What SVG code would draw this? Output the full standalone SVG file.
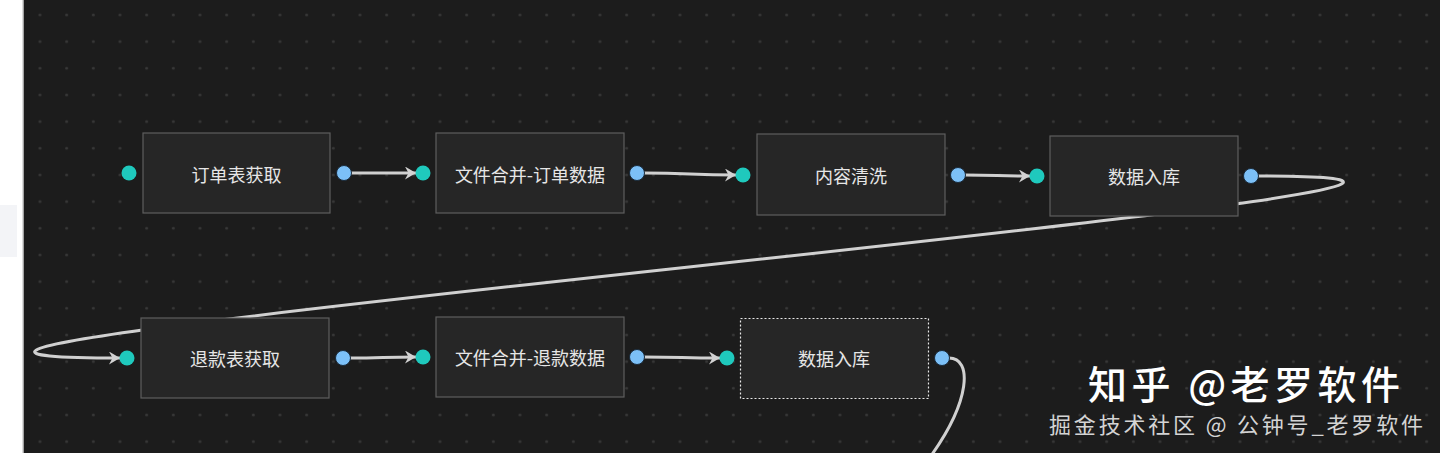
<svg xmlns="http://www.w3.org/2000/svg" width="1440" height="453" viewBox="0 0 1440 453">
  <defs>
    <pattern id="dots" patternUnits="userSpaceOnUse" x="0" y="0" width="26.667" height="26.667">
      <circle cx="13.333" cy="15" r="1.4" fill="#383838"/>
    </pattern>
    <marker id="arrow" markerUnits="userSpaceOnUse" viewBox="0 0 11 13" refX="11" refY="6.5" markerWidth="11" markerHeight="13" orient="auto">
      <path d="M0,0 L11,6.5 L0,13 L3.5,6.5 z" fill="#d2d2d2"/>
    </marker>
    <style>
      .node rect { fill: #262626; stroke: #5e5e5e; stroke-width: 1.2; }
      .node text { font-family: "Noto Sans CJK SC", "Liberation Sans", sans-serif; font-size: 18px; fill: #e6e6e6; text-anchor: middle; dominant-baseline: central; }
      .in { fill: #1fc9bd; }
      .out { fill: #7cc0f7; stroke: #1a2a3a; stroke-width: 1; }
      .edge { fill: none; stroke: #d0d0d0; stroke-width: 3; }
      .arrowed { marker-end: url(#arrow); }
      .wm1 { font-family: "Noto Sans CJK SC", "Liberation Sans", sans-serif; font-size: 39px; font-weight: 500; fill: #ffffff; }
      .wm2 { font-family: "Noto Sans CJK SC", "Liberation Sans", sans-serif; font-size: 22px; fill: #d4d4d4; }
    </style>
  </defs>

  <!-- background -->
  <rect x="0" y="0" width="1440" height="453" fill="#1c1c1c"/>
  <rect x="24" y="0" width="1416" height="453" fill="url(#dots)"/>
  <rect x="0" y="0" width="23" height="453" fill="#ffffff"/>
  <rect x="0" y="205" width="17" height="52" fill="#f3f4f7"/>
  <line x1="23" y1="0" x2="23" y2="453" stroke="#cfcfcf" stroke-width="1.5"/>

  <!-- connectors -->
  <g id="connectors">
    <path class="edge arrowed" d="M351,173 C383,173 383,173 416,173"/>
    <path class="edge arrowed" d="M644,173 C690,173 690,175 736,175"/>
    <path class="edge arrowed" d="M965,175 C997,175 997,176 1030,176"/>
    <path class="edge arrowed" d="M1258,176 C1798,176 -420,358 120,358"/>
    <path class="edge arrowed" d="M350,358 C383,358 383,357 416,357"/>
    <path class="edge arrowed" d="M644,357 C682,357 682,358 720,358"/>
    <path class="edge" d="M949,358 C972,358 972,400 928,460"/>
  </g>

  <!-- nodes -->
  <g id="node1" class="node">
    <rect x="143" y="133" width="187" height="80"/>
    <text x="236.5" y="174">订单表获取</text>
    <circle class="in" cx="129" cy="173" r="7.5"/>
    <circle class="out" cx="344" cy="173" r="7.5"/>
  </g>
  <g id="node2" class="node">
    <rect x="436" y="133" width="188" height="80"/>
    <text x="530" y="174">文件合并-订单数据</text>
    <circle class="in" cx="423" cy="173" r="7.5"/>
    <circle class="out" cx="637" cy="173" r="7.5"/>
  </g>
  <g id="node3" class="node">
    <rect x="757" y="134" width="188" height="81"/>
    <text x="851" y="175">内容清洗</text>
    <circle class="in" cx="743" cy="175" r="7.5"/>
    <circle class="out" cx="958" cy="175" r="7.5"/>
  </g>
  <g id="node4" class="node">
    <rect x="1050" y="136" width="188" height="80"/>
    <text x="1144" y="176">数据入库</text>
    <circle class="in" cx="1037" cy="176" r="7.5"/>
    <circle class="out" cx="1251" cy="176" r="7.5"/>
  </g>
  <g id="node5" class="node">
    <rect x="141" y="318" width="188" height="80"/>
    <text x="235" y="358">退款表获取</text>
    <circle class="in" cx="127" cy="358" r="7.5"/>
    <circle class="out" cx="343" cy="358" r="7.5"/>
  </g>
  <g id="node6" class="node">
    <rect x="436" y="317" width="188" height="80"/>
    <text x="530" y="357">文件合并-退款数据</text>
    <circle class="in" cx="423" cy="357" r="7.5"/>
    <circle class="out" cx="637" cy="357" r="7.5"/>
  </g>
  <g id="node7" class="node">
    <rect x="740.5" y="318.5" width="188" height="80" style="stroke:#e8e8e8;stroke-dasharray:2 2;"/>
    <text x="834" y="358">数据入库</text>
    <circle class="in" cx="727" cy="358" r="7.5"/>
    <circle class="out" cx="942" cy="358" r="7.5"/>
  </g>

  <!-- watermark -->
  <g id="watermark">
    <text class="wm1" x="1088" y="399" textLength="312" lengthAdjust="spacing">知乎 @老罗软件</text>
    <text class="wm2" x="1049" y="433" textLength="374" lengthAdjust="spacing">掘金技术社区 @ 公钟号_老罗软件</text>
  </g>
</svg>
